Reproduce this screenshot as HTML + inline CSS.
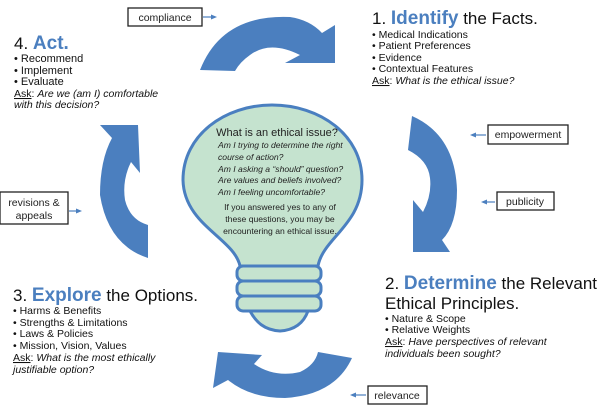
<!DOCTYPE html>
<html><head><meta charset="utf-8"><style>
html,body{margin:0;padding:0;background:#fff;}
svg{display:block;font-family:"Liberation Sans",Arial,sans-serif;}
</style></head><body>
<svg width="600" height="407" viewBox="0 0 600 407" xmlns="http://www.w3.org/2000/svg">
<g fill="#4b7fbf">
<path d="M200,70 Q222,14 290,17 Q310,20 322,33 L335,25 L335,63 L285,63 L300,55 Q270,40 250,55 Q240,62 235,71 Z"/>
<path d="M412,116 Q455,135 457,190 Q457,225 442,240 L450,252 L413,252 L413,200 L423,212 Q432,195 430,178 Q428,160 408,150 Z"/>
<path d="M100,125 L138,125 L140,173 L131,162 Q122,180 125,200 Q130,220 148,225 L148,258 Q108,245 100,195 Q100,160 112,138 Z"/>
<path d="M213,388 L218,352 L262,355 L254,364 Q275,378 300,372 Q315,365 318,352 L352,358 Q335,395 285,398 Q250,398 228,380 Z"/>
</g>
<g fill="#c5e3cf" stroke="#4a7fc0" stroke-width="3">
<path d="M240,266 C234,238 184,225 183,180 C183,135 225,105 272,105 C320,105 362,135 362,180 C362,225 323,238 318,266 Z"/>
<path d="M250,311 L308,311 C304,322 296,330 280,331 C264,330 256,322 250,311 Z"/>
<rect x="237" y="266" width="84" height="15" rx="6"/>
<rect x="237" y="281" width="84" height="15" rx="6"/>
<rect x="237" y="296" width="84" height="15" rx="6"/>
</g>
<g fill="#222">
<text x="277" y="136" font-size="11" text-anchor="middle">What is an ethical issue?</text>
<g font-size="8.6" font-style="italic">
<text x="218" y="148">Am I trying to determine the right</text>
<text x="218" y="160">course of action?</text>
<text x="218" y="172">Am I asking a “should” question?</text>
<text x="218" y="183">Are values and beliefs involved?</text>
<text x="218" y="195">Am I feeling uncomfortable?</text>
</g>
<g font-size="8.6" text-anchor="middle">
<text x="280" y="210">If you answered yes to any of</text>
<text x="280" y="222">these questions, you may be</text>
<text x="280" y="234">encountering an ethical issue.</text>
</g>
</g>
<g stroke="#222" stroke-width="1.3" fill="#fff">
<rect x="128" y="8" width="74" height="18"/>
<rect x="488" y="125" width="80" height="19"/>
<rect x="497" y="192" width="57" height="18"/>
<rect x="0" y="192" width="68" height="32"/>
<rect x="368" y="386" width="59" height="18"/>
</g>
<g font-size="10.5" fill="#222" text-anchor="middle">
<text x="165" y="21">compliance</text>
<text x="528" y="138">empowerment</text>
<text x="525" y="205">publicity</text>
<text x="34" y="206">revisions &amp;</text>
<text x="34" y="219">appeals</text>
<text x="397" y="399">relevance</text>
</g>
<g stroke="#4b7fbf" stroke-width="1.2" fill="#4b7fbf">
<line x1="203" y1="17" x2="213" y2="17"/><path d="M217,17 L211,14.5 L211,19.5 Z" stroke="none"/>
<line x1="474" y1="135" x2="486" y2="135"/><path d="M470,135 L476,132.5 L476,137.5 Z" stroke="none"/>
<line x1="485" y1="202" x2="495" y2="202"/><path d="M481,202 L487,199.5 L487,204.5 Z" stroke="none"/>
<line x1="69" y1="211" x2="78" y2="211"/><path d="M82,211 L76,208.5 L76,213.5 Z" stroke="none"/>
<line x1="354" y1="395" x2="366" y2="395"/><path d="M350,395 L356,392.5 L356,397.5 Z" stroke="none"/>
</g>
<g fill="#111" font-size="11">
<text x="14" y="49" font-size="17">4. <tspan fill="#4b7fbf" font-weight="bold" font-size="19">Act.</tspan></text>
<text x="14" y="62">• Recommend</text>
<text x="14" y="74">• Implement</text>
<text x="14" y="85">• Evaluate</text>
<text x="14" y="97" font-size="10.5"><tspan text-decoration="underline">Ask</tspan>: <tspan font-style="italic">Are we (am I) comfortable</tspan></text>
<text x="14" y="108" font-size="10.5" font-style="italic">with this decision?</text>

<text x="372" y="24" font-size="17">1. <tspan fill="#4b7fbf" font-weight="bold" font-size="19">Identify</tspan> the Facts.</text>
<text x="372" y="38" font-size="10.5">• Medical Indications</text>
<text x="372" y="49" font-size="10.5">• Patient Preferences</text>
<text x="372" y="61" font-size="10.5">• Evidence</text>
<text x="372" y="72" font-size="10.5">• Contextual Features</text>
<text x="372" y="84" font-size="10.5"><tspan text-decoration="underline">Ask</tspan>:  <tspan font-style="italic">What is the ethical issue?</tspan></text>

<text x="385" y="289" font-size="17">2. <tspan fill="#4b7fbf" font-weight="bold" font-size="19">Determine</tspan> the Relevant</text>
<text x="385" y="309" font-size="17">Ethical Principles.</text>
<text x="385" y="322" font-size="10.5">• Nature &amp; Scope</text>
<text x="385" y="333" font-size="10.5">• Relative Weights</text>
<text x="385" y="345" font-size="10.5"><tspan text-decoration="underline">Ask</tspan>:   <tspan font-style="italic">Have perspectives of relevant</tspan></text>
<text x="385" y="357" font-size="10.5" font-style="italic">individuals been sought?</text>

<text x="13" y="301" font-size="17">3. <tspan fill="#4b7fbf" font-weight="bold" font-size="19">Explore</tspan> the Options.</text>
<text x="13" y="314" font-size="10.5">• Harms &amp; Benefits</text>
<text x="13" y="326" font-size="10.5">• Strengths &amp; Limitations</text>
<text x="13" y="337" font-size="10.5">• Laws &amp; Policies</text>
<text x="13" y="349" font-size="10.5">• Mission, Vision, Values</text>
<text x="13" y="361" font-size="10.5"><tspan text-decoration="underline">Ask</tspan>: <tspan font-style="italic">What is the most ethically</tspan></text>
<text x="13" y="373" font-size="10.5" font-style="italic">justifiable option?</text>
</g>
</svg>
</body></html>
